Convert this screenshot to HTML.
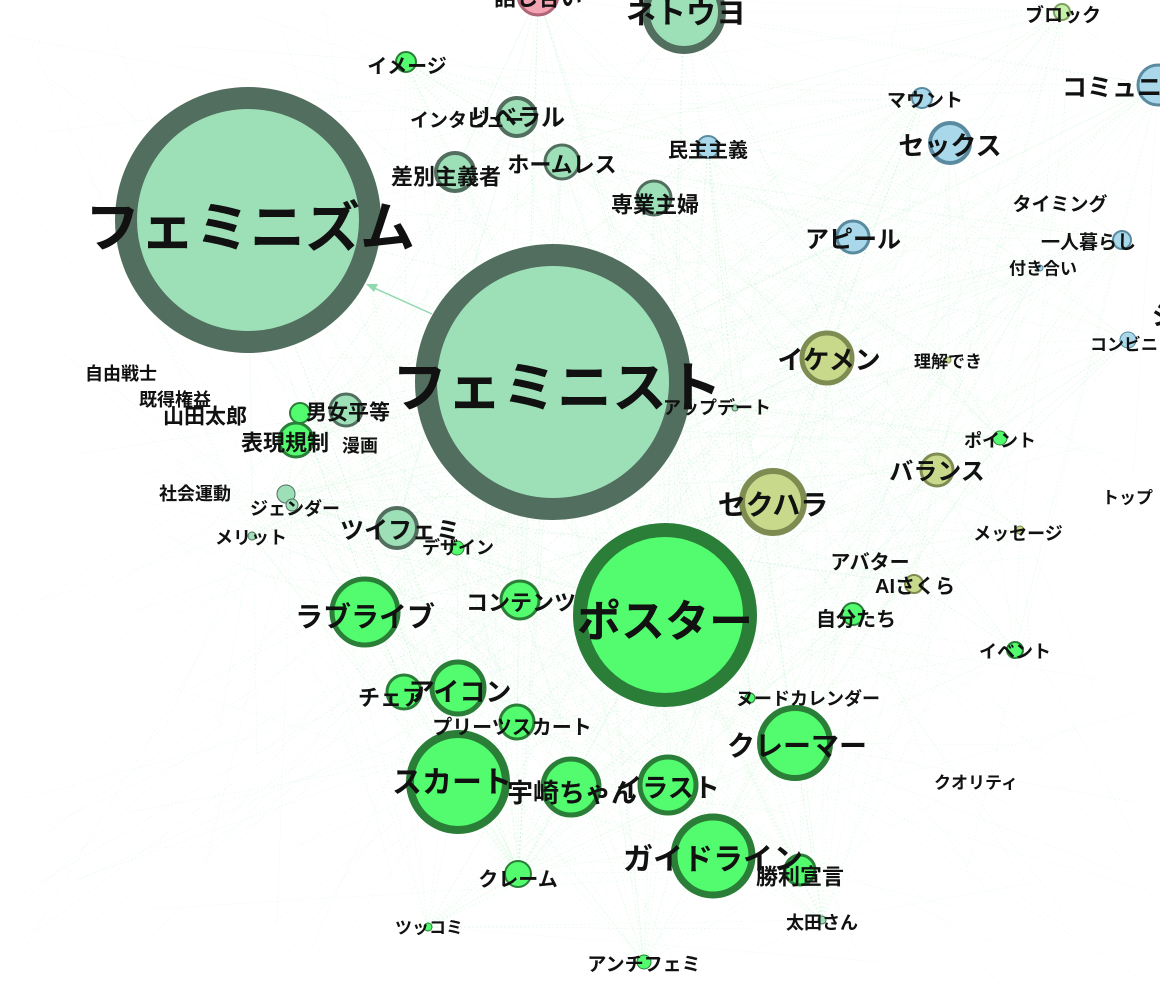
<!DOCTYPE html>
<html><head><meta charset="utf-8">
<style>
html,body{margin:0;padding:0;background:#fff;}
svg{display:block;}
text{font-family:"Liberation Sans","Noto Sans CJK JP",sans-serif;font-weight:bold;fill:#111;text-anchor:middle;dominant-baseline:central;}
</style></head><body>
<svg id="s" width="1160" height="991" viewBox="0 0 1160 991" xmlns="http://www.w3.org/2000/svg">
<g id="edges"></g>
<line x1="432" y1="314" x2="372" y2="287" stroke="#8fd8b0" stroke-width="1.5"/>
<polygon points="366,284 378,284 374,292" fill="#8fd8b0"/>
<g id="nodes"></g>
<g id="labels">
<text x="538" y="-2" font-size="22">話し合い</text>
<text x="686" y="14" font-size="30">ネトウヨ</text>
<text x="1063" y="16" font-size="19">ブロック</text>
<text x="407" y="67" font-size="20">イメージ</text>
<text x="1062" y="88" font-size="25" style="text-anchor:start">コミュニケ</text>
<text x="925" y="101" font-size="19">マウント</text>
<text x="410" y="121" font-size="19" style="text-anchor:start">インタビュー</text>
<text x="517" y="118" font-size="24">リベラル</text>
<text x="708" y="151" font-size="20">民主主義</text>
<text x="950" y="146" font-size="26">セックス</text>
<text x="446" y="177" font-size="22">差別主義者</text>
<text x="562" y="165" font-size="22">ホームレス</text>
<text x="655" y="205" font-size="22">専業主婦</text>
<text x="1060" y="205" font-size="19">タイミング</text>
<text x="853" y="240" font-size="24">アピール</text>
<text x="1041" y="243" font-size="19" style="text-anchor:start">一人暮らし</text>
<text x="1043" y="269" font-size="17">付き合い</text>
<text x="250" y="228" font-size="55">フェミニズム</text>
<text x="557" y="388" font-size="55">フェミニスト</text>
<text x="1152" y="316" font-size="26" style="text-anchor:start">ジ</text>
<text x="1090" y="345" font-size="17" style="text-anchor:start">コンビニ</text>
<text x="121" y="374" font-size="18">自由戦士</text>
<text x="829" y="360" font-size="26">イケメン</text>
<text x="948" y="362" font-size="17">理解でき</text>
<text x="175" y="400" font-size="18">既得権益</text>
<text x="205" y="417" font-size="21">山田太郎</text>
<text x="717" y="408" font-size="18">アップデート</text>
<text x="348" y="413" font-size="21">男女平等</text>
<text x="285" y="443" font-size="22">表現規制</text>
<text x="360" y="446" font-size="18">漫画</text>
<text x="1000" y="441" font-size="18">ポイント</text>
<text x="937" y="472" font-size="24">バランス</text>
<text x="195" y="494" font-size="18">社会運動</text>
<text x="1102" y="498" font-size="17" style="text-anchor:start">トップ</text>
<text x="773" y="505" font-size="28">セクハラ</text>
<text x="295" y="509" font-size="18">ジェンダー</text>
<text x="251" y="538" font-size="18">メリット</text>
<text x="400" y="531" font-size="24">ツイフェミ</text>
<text x="458" y="548" font-size="18">デザイン</text>
<text x="1018" y="534" font-size="18">メッセージ</text>
<text x="870" y="563" font-size="20">アバター</text>
<text x="915" y="587" font-size="20">AIさくら</text>
<text x="365" y="617" font-size="28">ラブライブ</text>
<text x="521" y="603" font-size="22">コンテンツ</text>
<text x="665" y="622" font-size="44">ポスター</text>
<text x="856" y="620" font-size="20">自分たち</text>
<text x="1015" y="652" font-size="18">イベント</text>
<text x="391" y="698" font-size="22">チェア</text>
<text x="460" y="692" font-size="26">アイコン</text>
<text x="808" y="699" font-size="18">ヌードカレンダー</text>
<text x="512" y="728" font-size="20">プリーツスカート</text>
<text x="797" y="746" font-size="28">クレーマー</text>
<text x="452" y="783" font-size="30">スカート</text>
<text x="572" y="793" font-size="26">宇崎ちゃん</text>
<text x="668" y="788" font-size="26">イラスト</text>
<text x="976" y="783" font-size="17">クオリティ</text>
<text x="713" y="860" font-size="30">ガイドライン</text>
<text x="800" y="877" font-size="22">勝利宣言</text>
<text x="518" y="880" font-size="20">クレーム</text>
<text x="822" y="923" font-size="18">太田さん</text>
<text x="429" y="928" font-size="17">ツッコミ</text>
<text x="644" y="965" font-size="19">アンチフェミ</text>
</g>
</svg>
<script>
var N=[
[248,220,122,'m',22],[553,382,127,'m',22],[665,615,85,'g',14],[684,12,38,'m',8],
[458,782,48,'g',8],[713,856,39,'g',7],[795,743,35,'g',6],[773,502,31,'y',6],
[827,358,25,'y',5],[365,612,33,'g',5],[458,688,26,'g',5],[668,785,28,'g',5],
[571,787,28,'g',5],[950,143,20,'b',4],[853,237,16,'b',3],[937,470,16,'y',3],
[397,528,20,'m',4],[517,117,19,'m',4],[562,162,17,'m',3],[455,172,19,'m',4],
[654,198,17,'m',3],[346,410,16,'m',3],[520,600,19,'g',3],[296,440,17,'g',3],
[404,692,17,'g',3],[517,722,17,'g',3],[518,874,13,'g',2],[800,870,15,'g',3],
[853,614,11,'g',2],[406,62,10,'g',2],[922,98,10,'b',2],[708,147,11,'b',2],
[538,-5,20,'p',3],[1158,85,20,'b',3],[1122,240,9,'b',2],[1062,12,8,'l',2],
[300,413,10,'g',2],[286,494,9,'m',1],[292,505,6,'m',1],[457,548,7,'g',1],
[914,584,9,'y',2],[1000,438,7,'g',1],[1015,650,8,'g',2],[644,962,7,'g',1],
[428,927,4,'g',1],[520,874,0,'g',0],[1128,340,8,'b',1],[750,698,5,'g',1],
[735,408,3,'m',1],[1020,530,4,'y',1],[948,360,3,'y',1],[822,920,4,'m',1],
[252,536,4,'m',1],[1040,268,3,'b',1]
];
var C={m:['#9de0b8','#526e5e'],g:['#52fc6e','#2a7e38'],y:['#c8d98c','#7e8c52'],b:['#a8d8ea','#5a8aa0'],p:['#f4a3b3','#b06478'],l:['#c6f0a8','#7ca060']};
var E=document.getElementById('edges'),G=document.getElementById('nodes');
var seed=7;function rnd(){seed=(seed*16807)%2147483647;return seed/2147483647;}
var h='';
for(var i=0;i<900;i++){
 var a=N[Math.floor(rnd()*N.length)];
 var bx,by;
 if(rnd()<0.6){var b=N[Math.floor(rnd()*N.length)];bx=b[0];by=b[1];}
 else{bx=rnd()*1160;by=rnd()*991;}
 var col=rnd()<0.3?'#9fe0c0':'#a8efb4';
 h+='<line x1="'+a[0]+'" y1="'+a[1]+'" x2="'+bx.toFixed(0)+'" y2="'+by.toFixed(0)+'" stroke="'+col+'" stroke-width="0.5" stroke-dasharray="2 2" opacity="0.28"/>';
}
E.innerHTML=h;
var g='';
N.forEach(function(n){if(n[2]<=0)return;var c=C[n[3]];
 g+='<circle cx="'+n[0]+'" cy="'+n[1]+'" r="'+n[2]+'" fill="'+c[0]+'" stroke="'+c[1]+'" stroke-width="'+n[4]+'"/>';});
G.innerHTML=g;
</script>
</body></html>
